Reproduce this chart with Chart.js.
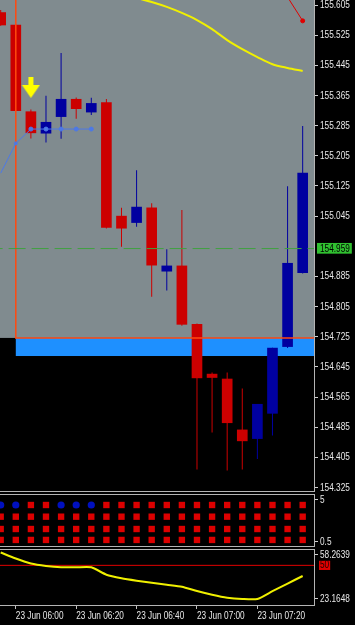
<!DOCTYPE html>
<html>
<head>
<meta charset="utf-8">
<script src="https://cdn.jsdelivr.net/npm/chart.js@4.4.1/dist/chart.umd.min.js"></script>
<style>
    html, body { margin: 0; padding: 0; background: #000; }
    body { width: 355px; height: 625px; position: relative; overflow: hidden; }
    canvas { position: absolute; left: 0; }
    #main { top: 0; }
    #dots { top: 492px; }
    #osc { top: 549px; }
</style>
</head>
<body>
<canvas id="main" width="355" height="492"></canvas>
<canvas id="dots" width="355" height="57"></canvas>
<canvas id="osc" width="355" height="76"></canvas>
<script>
const times = ['05:55', '06:00', '06:05', '06:10', '06:15', '06:20', '06:25', '06:30', '06:35', '06:40', '06:45', '06:50', '06:55', '07:00', '07:05', '07:10', '07:15', '07:20', '07:25', '07:30', '07:35']
const opens = [155.585, 155.552, 155.322, 155.265, 155.309, 155.355, 155.321, 155.346, 155.045, 155.028, 155.067, 154.899, 154.913, 154.758, 154.626, 154.613, 154.478, 154.455, 154.522, 154.699, 154.895]
const highs = [155.592, 155.553, 155.328, 155.364, 155.478, 155.360, 155.359, 155.356, 155.067, 155.167, 155.079, 154.957, 155.061, 154.760, 154.630, 154.630, 154.588, 154.546, 154.696, 155.124, 155.284]
const lows = [155.550, 155.324, 155.251, 155.240, 155.250, 155.303, 155.313, 155.012, 154.964, 155.017, 154.831, 154.848, 154.754, 154.373, 154.471, 154.370, 154.373, 154.401, 154.463, 154.695, 154.893]
const closes = [155.552, 155.325, 155.266, 155.294, 155.355, 155.330, 155.344, 155.015, 155.013, 155.069, 154.915, 154.913, 154.758, 154.616, 154.617, 154.497, 154.449, 154.546, 154.695, 154.920, 155.159]

const maLine = [null, null, null, null, null, null, null, null, 155.637, 155.624, 155.613, 155.600, 155.584, 155.565, 155.541, 155.512, 155.488, 155.467, 155.448, 155.438, 155.430]
const redLine = [null, null, null, null, null, null, null, null, null, null, null, null, null, null, null, null, null, null, null, 155.626, 155.563]
const blueLine = [155.159, 155.238, 155.276, 155.276, 155.276, 155.276, 155.276]

const priceTicks = [155.605, 155.525, 155.445, 155.365, 155.285, 155.205, 155.125, 155.045, 154.959, 154.885, 154.805, 154.725, 154.645, 154.565, 154.485, 154.405, 154.325]
const priceNow = 154.959
const zoneTop = 154.722
const zoneBottom = 154.674
const zoneStart = 1
const arrowIndex = 2
const arrowPrice = 155.385

const signalRow = ['up', 'up', 'down', 'down', 'up', 'up', 'up', 'down', 'down', 'down', 'down', 'down', 'down', 'down', 'down', 'down', 'down', 'down', 'down', 'down', 'down']
const rowLevels = [4.46, 3.2, 1.87, 0.69]
const dotTicks = [5, 0.5]

const oscValues = [60.26, 55.47, 51.48, 49.49, 48.45, 48.45, 48.45, 42.55, 39.67, 37.76, 36.17, 34.55, 32.95, 29.55, 26.57, 24.2, 23.2, 23.2, 29.4, 35.5, 41.51]
const oscTicks = [58.2639, 50, 23.1648]
const oscLevel = 50

const timeTicks = [1, 5, 9, 13, 17]

Chart.defaults.font.family = '"Liberation Sans", Arial, sans-serif'
Chart.defaults.font.size = 11
Chart.defaults.color = '#e8e8e8'

// the terminal font is narrow: squeeze every label the charts measure and draw
const condense = (canvas, k) => {
    const g = canvas.getContext('2d')
    const measure = g.measureText.bind(g)
    const fill = g.fillText.bind(g)
    g.measureText = t => {
        const m = measure(t)
        return {width: m.width * k, actualBoundingBoxAscent: m.actualBoundingBoxAscent, actualBoundingBoxDescent: m.actualBoundingBoxDescent}
    }
    g.fillText = (t, x, y) => fill(t, x, y, measure(t).width * k)
    return canvas
}

const idx = times.map((t, i) => i)
const isUp = i => closes[i] > opens[i]
const candleColors = idx.map(i => isUp(i) ? '#0000a0' : '#cc0000')
const toPoints = arr => arr.map((v, i) => ({x: i, y: v}))
const same = (a, b) => Math.abs(a - b) < 1e-6

const makeArrow = () => {
    const c = document.createElement('canvas')
    c.width = 19
    c.height = 22
    const g = c.getContext('2d')
    g.fillStyle = '#ffff00'
    g.beginPath()
    g.moveTo(7, 0)
    g.lineTo(12, 0)
    g.lineTo(12, 8)
    g.lineTo(18.5, 8)
    g.lineTo(9.5, 21)
    g.lineTo(0.5, 8)
    g.lineTo(7, 8)
    g.closePath()
    g.fill()
    return c
}

const makeFrame = (top, bottom) => ({
    id: 'frame',
    afterDraw(chart) {
        const {ctx, chartArea: a} = chart
        ctx.save()
        ctx.strokeStyle = '#b4b4b4'
        ctx.lineWidth = 1
        ctx.beginPath()
        if (top) {
            ctx.moveTo(0, a.top + 0.5)
            ctx.lineTo(a.right + 0.5, a.top + 0.5)
        }
        if (bottom) {
            ctx.moveTo(0, a.bottom - 0.5)
            ctx.lineTo(a.right + 0.5, a.bottom - 0.5)
        }
        ctx.moveTo(a.right + 0.5, a.top)
        ctx.lineTo(a.right + 0.5, a.bottom)
        ctx.stroke()
        ctx.restore()
    }
})

const mainBg = {
    id: 'mainBg',
    beforeDraw(chart) {
        const {ctx, chartArea: a, scales: {x, y}} = chart
        const yz = y.getPixelForValue(zoneTop)
        const yb = y.getPixelForValue(zoneBottom)
        const xs = x.getPixelForValue(zoneStart)
        ctx.save()
        ctx.fillStyle = '#000'
        ctx.fillRect(a.left, a.top, a.width, a.height)
        ctx.fillStyle = '#808b8f'
        ctx.fillRect(a.left, a.top, a.width, yz - a.top)
        ctx.fillStyle = '#1e90ff'
        ctx.fillRect(xs, yz, a.right - xs, yb - yz)
        ctx.restore()
    }
}

const xScale = (show) => ({
    type: 'linear',
    min: -0.046,
    max: 20.75,
    offset: false,
    display: show,
    grid: {display: show, offset: false, drawOnChartArea: false, tickLength: 3, tickColor: '#c0c0c0'},
    border: {display: false},
    afterBuildTicks: s => { s.ticks = timeTicks.map(v => ({value: v})) },
    afterFit: s => {
        s.paddingLeft = 0
        s.paddingRight = 0
        if (show) s.height = 19
    },
    ticks: {
        autoSkip: false,
        maxRotation: 0,
        align: 'start',
        padding: 0,
        color: '#e8e8e8',
        callback: v => '23 Jun ' + times[v]
    }
})

const rightAxis = (min, max, tickValues, fmt, special) => {
    const hit = ctx => special && ctx.tick && same(ctx.tick.value, special.value)
    return {
        position: 'right',
        min: min,
        max: max,
        beginAtZero: false,
        border: {display: false},
        grid: {
            drawOnChartArea: false,
            tickLength: 4,
            tickColor: ctx => hit(ctx) ? 'transparent' : '#d0d0d0'
        },
        afterBuildTicks: s => { s.ticks = tickValues.map(v => ({value: v})) },
        afterFit: s => {
            s.width = 41
            s.paddingTop = 0
            s.paddingBottom = 0
        },
        ticks: {
            autoSkip: false,
            padding: 2,
            color: ctx => hit(ctx) ? special.text : '#e8e8e8',
            showLabelBackdrop: !!special,
            backdropColor: ctx => hit(ctx) ? special.bg : 'transparent',
            backdropPadding: special ? special.pad : 0,
            callback: fmt
        }
    }
}

const baseOptions = (padding) => ({
    responsive: false,
    animation: false,
    devicePixelRatio: 1,
    layout: {padding: padding, autoPadding: false},
    plugins: {legend: {display: false}, tooltip: {enabled: false}}
})

// main price chart
new Chart(condense(document.getElementById('main'), 0.75), {
    type: 'bar',
    data: {
        datasets: [{
            type: 'scatter',
            data: [{x: arrowIndex, y: arrowPrice}],
            pointStyle: makeArrow(),
            order: 0
        }, {
            type: 'line',
            data: toPoints(redLine),
            borderColor: '#e00000',
            backgroundColor: '#e00000',
            borderWidth: 1,
            pointRadius: redLine.map((v, i) => i === redLine.length - 1 ? 2 : 0),
            order: 1
        }, {
            type: 'line',
            data: toPoints(maLine),
            borderColor: '#f0f000',
            borderWidth: 2,
            pointRadius: 0,
            tension: 0.3,
            order: 1
        }, {
            type: 'line',
            data: toPoints(blueLine),
            borderColor: '#4d79e6',
            backgroundColor: '#4d79e6',
            borderWidth: 1,
            pointRadius: [0, 1.5, 2, 2, 2, 2, 2],
            order: 1
        }, {
            type: 'line',
            data: [{x: -1, y: priceNow}, {x: 22, y: priceNow}],
            borderColor: '#3fa03f',
            borderWidth: 1,
            borderDash: [17, 6],
            pointRadius: 0,
            order: 2
        }, {
            type: 'line',
            data: [{x: zoneStart, y: 156}, {x: zoneStart, y: zoneTop}, {x: 22, y: zoneTop}],
            borderColor: '#ff4a10',
            borderWidth: 1.5,
            pointRadius: 0,
            order: 3
        }, {
            data: idx.map(i => ({x: i, y: [opens[i], closes[i]]})),
            backgroundColor: candleColors,
            barThickness: 10,
            grouped: false,
            borderWidth: 0,
            order: 4
        }, {
            data: idx.map(i => ({x: i, y: [lows[i], highs[i]]})),
            backgroundColor: candleColors,
            barThickness: 1,
            grouped: false,
            borderWidth: 0,
            inflateAmount: 0,
            order: 5
        }]
    },
    options: {
        ...baseOptions(0),
        scales: {
            x: xScale(false),
            y: rightAxis(154.3133, 155.6183, priceTicks, v => v.toFixed(3),
                {value: priceNow, bg: '#30c030', text: '#000000', pad: {left: 3, right: 2, top: -1, bottom: -1.5}})
        }
    },
    plugins: [mainBg, makeFrame(false, true)]
})

// signal dots
new Chart(condense(document.getElementById('dots'), 0.75), {
    type: 'scatter',
    data: {
        datasets: rowLevels.map((lvl, r) => {
            const round = i => r === 0 && signalRow[i] === 'up'
            return {
                data: idx.map(i => ({x: i, y: lvl})),
                pointStyle: idx.map(i => round(i) ? 'circle' : 'rect'),
                pointRadius: idx.map(i => round(i) ? 3.6 : 4.5),
                pointBackgroundColor: idx.map(i => round(i) ? '#0010c0' : '#dd0000'),
                pointBorderWidth: 0,
                showLine: false
            }
        })
    },
    options: {
        ...baseOptions({top: 2, bottom: 2}),
        scales: {
            x: xScale(false),
            y: rightAxis(-0.072, 5.647, dotTicks, v => String(v), null)
        }
    },
    plugins: [makeFrame(true, true)]
})

// oscillator
new Chart(condense(document.getElementById('osc'), 0.75), {
    type: 'line',
    data: {
        datasets: [{
            data: toPoints(oscValues),
            borderColor: '#f0f000',
            borderWidth: 2,
            pointRadius: 0,
            tension: 0.2
        }, {
            data: [{x: -1, y: oscLevel}, {x: 22, y: oscLevel}],
            borderColor: '#e00000',
            borderWidth: 1,
            pointRadius: 0
        }]
    },
    options: {
        ...baseOptions(0),
        scales: {
            x: xScale(true),
            y: rightAxis(17.58, 63.05, oscTicks, v => same(v, oscLevel) ? '50' : v.toFixed(4),
                {value: oscLevel, bg: '#e00000', text: '#200000', pad: {left: 1, right: 1, top: -2, bottom: -2}})
        }
    },
    plugins: [makeFrame(true, true)]
})
</script>
</body>
</html>
